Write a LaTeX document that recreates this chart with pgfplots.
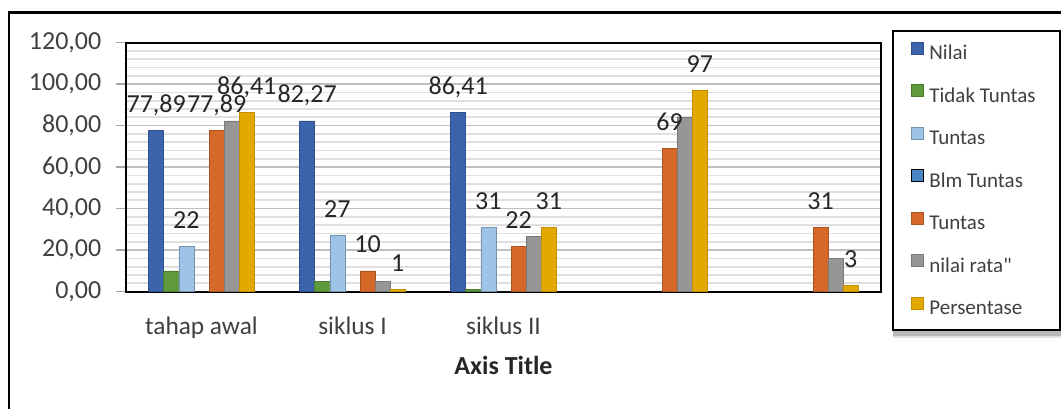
\documentclass[border=0pt]{standalone}
\usepackage{fontspec}
\setmainfont{Carlito}
\newfontfamily\plainquote{Carlito}[Ligatures=TeXOff]
\usepackage{pgfplots}
\pgfplotsset{compat=1.18}

\definecolor{cNilai}{RGB}{59,100,173}
\definecolor{cTidak}{RGB}{94,154,60}
\definecolor{cTuntasA}{RGB}{157,195,230}
\definecolor{cBlm}{RGB}{72,134,196}
\definecolor{cTuntasB}{RGB}{214,105,42}
\definecolor{cRata}{RGB}{150,150,150}
\definecolor{cPersen}{RGB}{227,169,0}
\definecolor{txt}{RGB}{64,64,64}

\pgfplotsset{
  labelled/.style={nodes near coords={\pgfmathprintnumber[fixed, precision=2, use comma, assume math mode=true]{\pgfplotspointmeta}}},
}

\begin{document}
\begin{tikzpicture}
\useasboundingbox (0pt,0pt) rectangle (795.75pt,306.75pt);
% chart area border
\draw[line width=2.2pt] (6.75pt,-15pt) rectangle (810pt,297.2pt);
% soft shadow under the legend box
\fill[black!12] (670pt,53pt) rectangle (800pt,60pt);
\fill[black!28] (670pt,55pt) rectangle (800pt,60pt);
\begin{axis}[
  at={(94.5pt,88pt)}, anchor=south west,
  scale only axis, width=566.25pt, height=186.75pt,
  xmin=-0.5, xmax=4.5, ymin=0, ymax=120,
  ybar=0pt, bar width=0.1,
  axis line style={black, line width=1.5pt},
  xtick={0,1,2}, xticklabels={tahap awal, siklus I, siklus II},
  x tick style={draw=none},
  ytick={0,20,...,120},
  ytick pos=left,
  minor y tick num=4,
  tick align=outside,
  major tick length=7.5pt,
  minor tick length=0pt,
  y tick style={draw=gray!70, line width=1.2pt},
  ymajorgrids, yminorgrids,
  major grid style={draw=gray!50, line width=1.2pt},
  minor grid style={draw=gray!25, line width=1.3pt},
  yticklabel style={font=\fontsize{19.5}{22}\selectfont, text=txt, xshift=-7.5pt,
    /pgf/number format/fixed, /pgf/number format/fixed zerofill,
    /pgf/number format/precision=2, /pgf/number format/use comma,
    /pgf/number format/assume math mode=true},
  xticklabel style={font=\fontsize{19}{22}\selectfont, text=txt, anchor=base, yshift=-25pt},
  xlabel={\textbf{Axis Title}},
  xlabel style={at={(axis description cs:0.5,0)}, anchor=base, yshift=-62.5pt,
    font=\fontsize{19.5}{22}\selectfont, text=black!85},
  nodes near coords style={font=\fontsize{19.5}{22}\selectfont, text=black!85, anchor=base, yshift=13.5pt},
  legend style={at={(axis description cs:1.0142,1.051)}, anchor=north west,
    draw=black, line width=1.5pt, fill=white,
    font=\fontsize{15.75}{18}\selectfont, text=txt,
    inner xsep=14pt, inner ysep=8pt, row sep=14.9pt,
    nodes={inner ysep=0pt, inner xsep=4pt, text height=11pt, text depth=3.5pt},
    cells={anchor=west}},
  legend image code/.code={\draw[#1, line width=0.5pt] (0pt,0.5pt) rectangle (9pt,9.5pt);},
]
% Nilai
\addplot[fill=cNilai, draw=cNilai!80!black, line width=0.5pt, labelled]
  coordinates {(0,77.89) (1,82.27) (2,86.41)};
% Tidak Tuntas
\addplot[fill=cTidak, draw=cTidak!80!black, line width=0.5pt]
  coordinates {(0,10) (1,5) (2,1)};
% Tuntas (siswa)
\addplot[fill=cTuntasA, draw=cTuntasA!75!black, line width=0.5pt, labelled]
  coordinates {(0,22) (1,27) (2,31)};
% Blm Tuntas
\addplot[fill=cBlm, draw=none]
  coordinates {(0,0) (1,0) (2,0)};
% Tuntas (nilai)
\addplot[fill=cTuntasB, draw=cTuntasB!80!black, line width=0.5pt, labelled]
  coordinates {(0,77.89) (1,10) (2,22) (3,69) (4,31)};
% nilai rata-rata
\addplot[fill=cRata, draw=cRata!80!black, line width=0.5pt]
  coordinates {(0,82.27) (1,5) (2,26.5) (3,84) (4,16)};
% Persentase
\addplot[fill=cPersen, draw=cPersen!85!black, line width=0.5pt, labelled]
  coordinates {(0,86.41) (1,1) (2,31) (3,97) (4,3)};
\legend{Nilai, Tidak Tuntas, Tuntas, Blm Tuntas, Tuntas, nilai rata{\plainquote "}, Persentase}
\end{axis}
\end{tikzpicture}
\end{document}
